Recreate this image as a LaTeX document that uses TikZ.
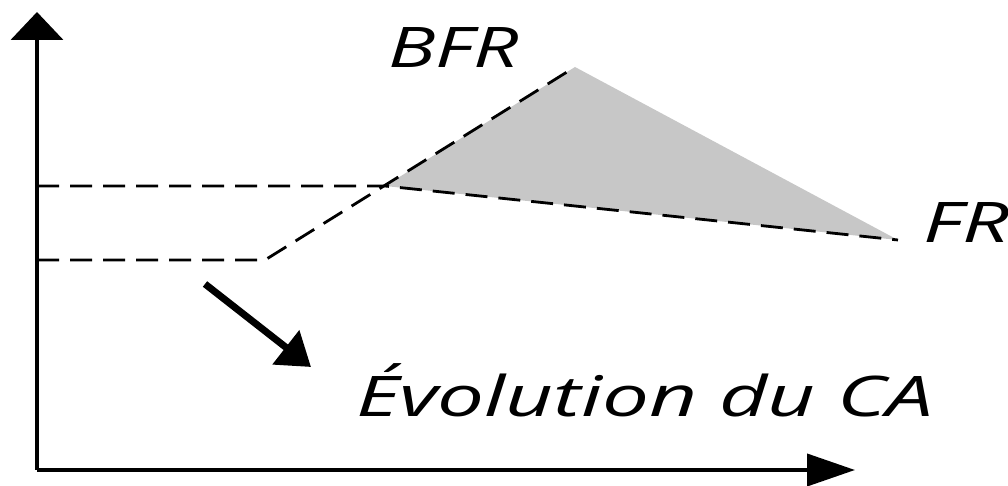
\documentclass[tikz,border=0pt]{standalone}
\usepackage{fontspec}
\setmainfont{Open Sans}
\usetikzlibrary{arrows.meta}

\newcommand{\lblfont}{\fontsize{28}{32}\selectfont\itshape}

\begin{document}
\begin{tikzpicture}[
    x=0.5pt, y=-0.5pt,
    axis/.style={line width=2pt},
    dashline/.style={line width=1.4pt, dash pattern=on 11pt off 5.5pt},
    area/.style={fill=black!22},
    label text/.style={font=\lblfont, inner sep=0pt, anchor=base west}
]
\useasboundingbox (0,0) rectangle (1008,486);

\coordinate (o) at (37,470);
\coordinate (ytop) at (37,12);
\coordinate (xend) at (855,470);

\coordinate (fr0) at (37,186);
\coordinate (bfr0) at (37,260);
\coordinate (k) at (265,260);
\coordinate (i) at (385,186);
\coordinate (p) at (575,67);
\coordinate (r) at (898,240);

% zone grisee entre BFR et FR
\fill[area] (i) -- (p) -- (r) -- cycle;

% axes
\draw[axis, -{Triangle[width=26pt,length=14pt]}] (o) -- (ytop);
\draw[axis, -{Triangle[width=16pt,length=24pt]}] (o) -- (xend);

% FR
\draw[dashline] (fr0) -- (i) -- (r);
% BFR
\draw[dashline] (bfr0) -- (k) -- (p);

\node[label text] (bfr) at (388,68) {\scalebox{1.41}[1]{BFR}};
\node[label text] (fr) at (923,243) {\scalebox{1.46}[1]{FR}};
\node[label text] (ca) at (356,417) {\scalebox{1.49}[1]{Évolution du CA}};

\coordinate (s) at (205,284);
\coordinate (t) at (311,367);
\draw[line width=3.5pt, -{Triangle[width=21pt,length=16pt]}] (s) -- (t);

\end{tikzpicture}
\end{document}
